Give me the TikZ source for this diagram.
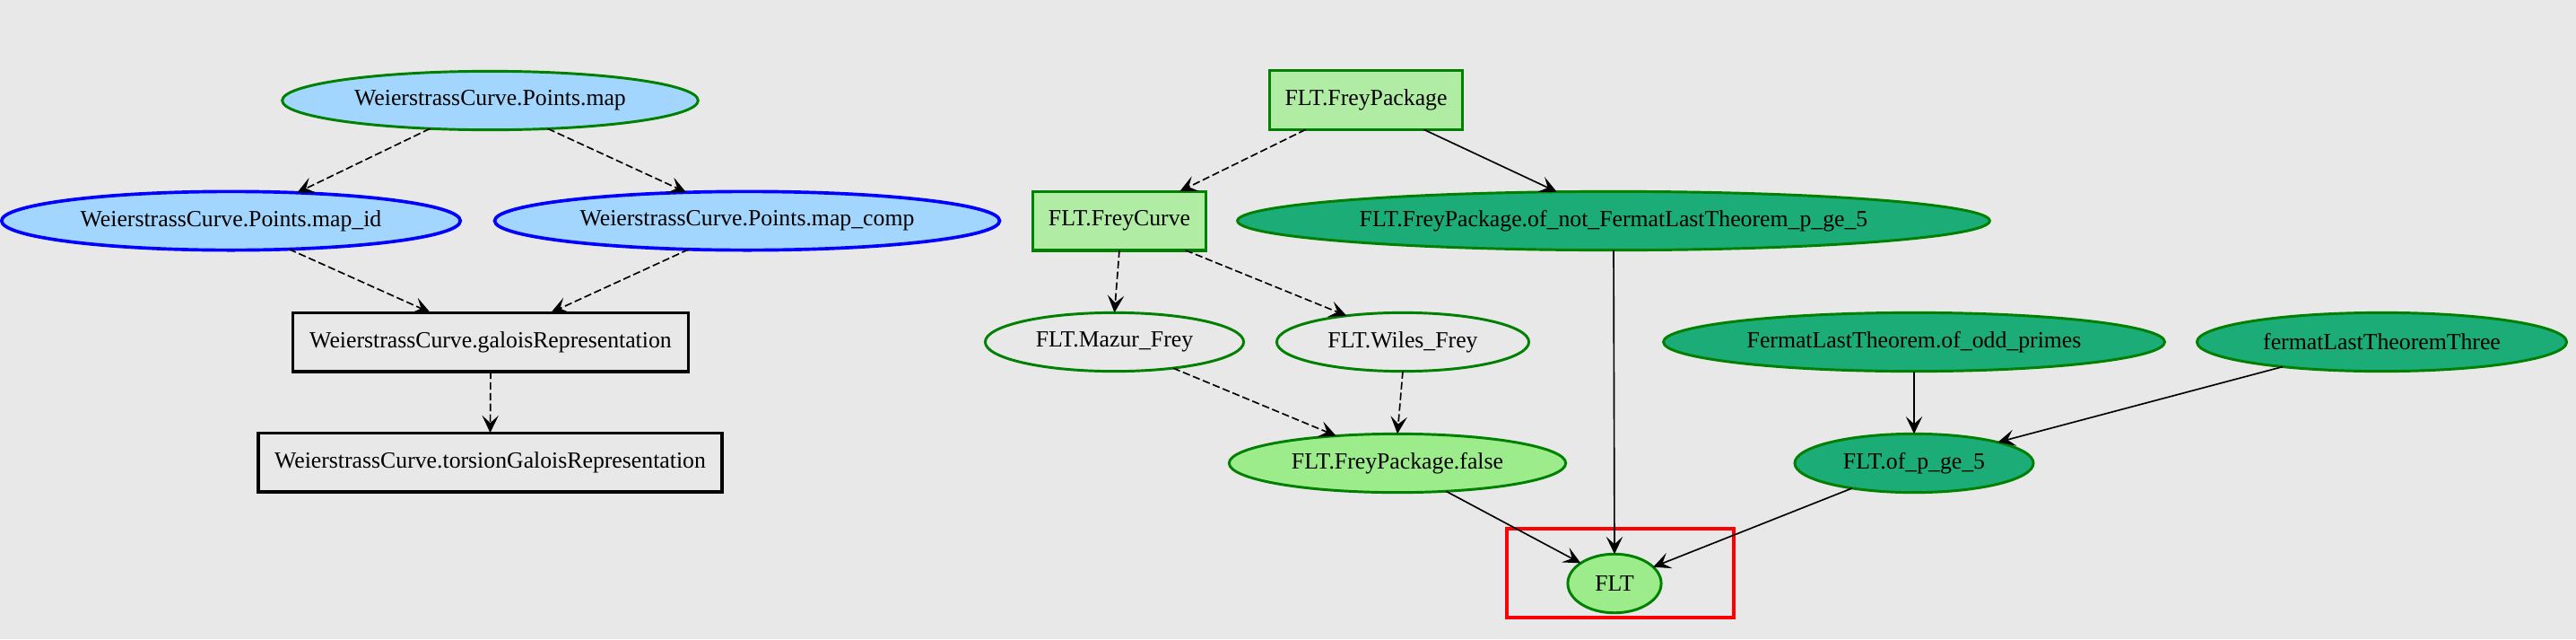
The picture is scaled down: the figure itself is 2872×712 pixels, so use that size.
\documentclass[tikz,border=0pt]{standalone}
\usepackage{fontspec}
\setmainfont{Liberation Serif}
\usetikzlibrary{arrows.meta,shapes.geometric}
\definecolor{bgc}{HTML}{E8E8E8}
\definecolor{gborder}{HTML}{008000}
\definecolor{bluefill}{HTML}{A3D6FF}
\definecolor{bborder}{HTML}{0000FF}
\definecolor{defill}{HTML}{B0ECA3}
\definecolor{provfill}{HTML}{9CEC8B}
\definecolor{fullfill}{HTML}{1CAC78}
\definecolor{hilite}{HTML}{FF0000}
\begin{document}
\begin{tikzpicture}[x=0.5435pt,y=-0.5435pt,
  every node/.style={font=\fontsize{14pt}{16pt}\selectfont, inner sep=0pt, outer sep=0pt, text=black},
  canprove/.style={ellipse, draw=gborder, fill=bluefill, line width=1.6pt, minimum height=35.5pt},
  blueell/.style={ellipse, draw=bborder, fill=bluefill, line width=2pt, minimum height=35.5pt},
  blackbox/.style={rectangle, draw=black, line width=1.8pt, minimum height=35.7pt},
  defbox/.style={rectangle, draw=gborder, fill=defill, line width=1.8pt, minimum height=35.7pt},
  fullell/.style={ellipse, draw=gborder, fill=fullfill, line width=1.6pt, minimum height=35.5pt},
  provedell/.style={ellipse, draw=gborder, fill=provfill, line width=1.6pt, minimum height=35.5pt},
  statedell/.style={ellipse, draw=gborder, line width=1.6pt, minimum height=35.5pt},
  dep/.style={-{Stealth[length=10.5pt,width=10pt,inset=4.5pt]}, line width=0.9pt, draw=black},
  weak/.style={dep, dash pattern=on 4.5pt off 2pt}
]
\useasboundingbox (0,0) rectangle (2872,712);
\fill[bgc] (0,0) rectangle (2872,712);

% left component
\node[canprove, minimum width=252pt] (pmap) at (546.5,112) {WeierstrassCurve.Points.map};
\node[blueell, minimum width=278pt] (mapid) at (257.5,246) {WeierstrassCurve.Points.map\_id};
\node[blueell, minimum width=306pt] (mapcomp) at (833,246) {WeierstrassCurve.Points.map\_comp};
\node[blackbox, minimum width=239.5pt] (galois) at (547,381) {WeierstrassCurve.galoisRepresentation};
\node[blackbox, minimum width=281pt] (torsion) at (546.5,515) {WeierstrassCurve.torsionGaloisRepresentation};

% right component
\node[defbox, minimum width=117pt] (freypkg) at (1523,111.5) {FLT.FreyPackage};
\node[defbox, minimum width=104.7pt] (freycurve) at (1248,246) {FLT.FreyCurve};
\node[fullell, minimum width=455.8pt] (ofnot) at (1799,246) {FLT.FreyPackage.of\_not\_FermatLastTheorem\_p\_ge\_5};
\node[statedell, minimum width=156.6pt] (mazur) at (1242.5,381) {FLT.Mazur\_Frey};
\node[statedell, minimum width=152.8pt] (wiles) at (1564,381) {FLT.Wiles\_Frey};
\node[fullell, minimum width=303.8pt] (oddprimes) at (2134,381) {FermatLastTheorem.of\_odd\_primes};
\node[fullell, minimum width=224pt] (three) at (2655.5,381) {fermatLastTheoremThree};
\node[provedell, minimum width=204pt] (false) at (1558,516) {FLT.FreyPackage.false};
\node[fullell, minimum width=144.6pt] (ofp5) at (2134,516) {FLT.of\_p\_ge\_5};
\node[provedell, minimum width=56.6pt, minimum height=35.6pt] (flt) at (1800,650) {FLT};

% highlight
\draw[hilite, line width=2.2pt] (1680,588.7) rectangle (1933,688);

% edges
\draw[weak] (pmap.205) -- (mapid.23);
\draw[weak] (pmap.334) -- (mapcomp.155);
\draw[weak] (mapid.334) -- (galois.154);
\draw[weak] (mapcomp.206) -- (galois.26);
\draw[weak] (galois.south) -- (torsion.north);

\draw[weak] (freypkg.206.6) -- (freycurve.26);
\draw[dep] (freypkg.333.4) -- (ofnot.153);
\draw[weak] (freycurve.south) -- (mazur.north);
\draw[weak] (freycurve.336) -- (wiles.155.6);
\draw[weak] (mazur.336) -- (false.156);
\draw[weak] (wiles.south) -- (false.north);
\draw[dep] (ofnot.south) -- (flt.north);
\draw[dep] (false.330) -- (flt.149.5);
\draw[dep] (ofp5.202) -- (flt.23.4);
\draw[dep] (oddprimes.south) -- (ofp5.north);
\draw[dep] (three.194.7) -- (ofp5.14.5);
\end{tikzpicture}
\end{document}
